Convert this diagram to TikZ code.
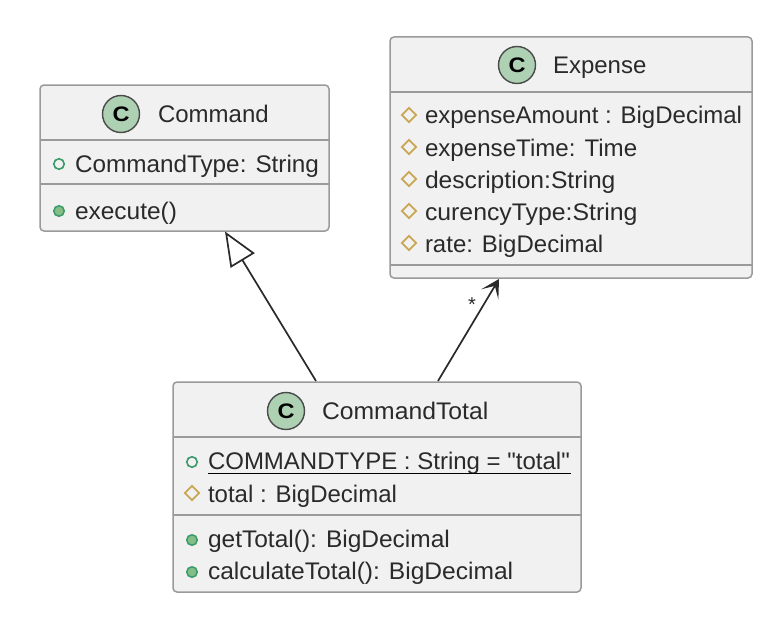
\documentclass[tikz,border=0pt]{standalone}
\usepackage{fontspec}
\setmainfont{Liberation Sans}
\newfontfamily\plainsans{Liberation Sans}
\usetikzlibrary{arrows.meta,shapes.geometric}
\definecolor{boxfill}{HTML}{F1F1F1}
\definecolor{boxline}{HTML}{9A9A9A}
\definecolor{ink}{HTML}{2A2A2A}
\definecolor{badge}{HTML}{ADD1B2}
\definecolor{publine}{HTML}{3B9A6B}
\definecolor{pubfill}{HTML}{84BE84}
\definecolor{protline}{HTML}{C9A654}
\newcommand{\xfit}[2]{\scalebox{#1}[1]{#2}}
\tikzset{
  classbox/.style={draw=boxline,fill=boxfill,line width=1.5pt,rounded corners=4pt,anchor=north west,inner sep=0pt,outer sep=0pt},
  divider/.style={draw=boxline,line width=1.4pt},
  label/.style={anchor=base west,inner sep=0pt,outer sep=0pt,text=ink,font=\fontsize{24}{28}\selectfont},
  badgecirc/.style={circle,draw=ink!85,fill=badge,line width=1.4pt,minimum size=37pt,inner sep=0pt,font=\fontsize{21}{25}\selectfont\bfseries,text=black},
  pubfield/.style={circle,draw=publine,fill=boxfill,line width=1.6pt,minimum size=10.5pt,inner sep=0pt},
  pubmethod/.style={circle,draw=publine,fill=pubfill,line width=1.5pt,minimum size=10.5pt,inner sep=0pt},
  protfield/.style={diamond,draw=protline,fill=boxfill,line width=1.7pt,minimum width=15pt,minimum height=15pt,inner sep=0pt},
  conn/.style={draw=ink,line width=1.7pt},
}
\begin{document}
\begin{tikzpicture}[x=1pt,y=-1pt]
\useasboundingbox[fill=white] (0,0) rectangle (771,626);

% Command
\node[classbox,minimum width=289pt,minimum height=146pt] (cmd) at (40,85) {};
\draw[divider] (cmd.west |- 0,140) -- (cmd.east |- 0,140);
\draw[divider] (cmd.west |- 0,184) -- (cmd.east |- 0,184);
\node[badgecirc] (cmdC) at (121,114) {\xfit{1.12}{C}};
\node[label] (cmdT) at (158,122) {Command};
\node[pubfield] (cmdI1) at (59,164) {};
\node[label] (cmdL1) at (75,172) {\xfit{1.0125}{CommandType: String}};
\node[pubmethod] (cmdI2) at (59,211) {};
\node[label] (cmdL2) at (75,219) {\xfit{1.02}{execute()}};

% Expense
\node[classbox,minimum width=362pt,minimum height=241pt] (exp) at (390,37) {};
\draw[divider] (exp.west |- 0,92) -- (exp.east |- 0,92);
\draw[divider] (exp.west |- 0,265) -- (exp.east |- 0,265);
\node[badgecirc] (expC) at (517,65) {\xfit{1.12}{C}};
\node[label] (expT) at (553,74) {Expense};
\node[protfield] (expI1) at (409,115) {};
\node[label] (expL1) at (425,123) {expenseAmount : BigDecimal};
\node[protfield] (expI2) at (409,147) {};
\node[label] (expL2) at (425,156) {\xfit{1.005}{expenseTime: Time}};
\node[protfield] (expI3) at (409,179) {};
\node[label] (expL3) at (425,188) {\xfit{1.027}{description:String}};
\node[protfield] (expI4) at (409,211) {};
\node[label] (expL4) at (425,220) {\xfit{1.034}{curencyType:String}};
\node[protfield] (expI5) at (409,243) {};
\node[label] (expL5) at (425,252) {rate: BigDecimal};

% CommandTotal
\node[classbox,minimum width=408pt,minimum height=210pt] (tot) at (173,382) {};
\draw[divider] (tot.west |- 0,437) -- (tot.east |- 0,437);
\draw[divider] (tot.west |- 0,515) -- (tot.east |- 0,515);
\node[badgecirc] (totC) at (286,411) {\xfit{1.12}{C}};
\node[label] (totT) at (322,419) {\xfit{1.03}{CommandTotal}};
\node[pubfield] (totI1) at (192,462) {};
\node[label] (totL1) at (208,469) {\plainsans COMMANDTYPE : String = "total"};
\draw[draw=black,line width=1.4pt] (208,473.5) -- (571,473.5);
\node[protfield] (totI2) at (192,493) {};
\node[label] (totL2) at (208,502) {total : BigDecimal};
\node[pubmethod] (totI3) at (192,540) {};
\node[label] (totL3) at (208,547) {\xfit{1.021}{getTotal(): BigDecimal}};
\node[pubmethod] (totI4) at (192,572) {};
\node[label] (totL4) at (208,579) {\xfit{1.023}{calculateTotal(): BigDecimal}};

% Connectors
\coordinate (totA) at (316,381);
\coordinate (cmdA) at (225,231.5);
\coordinate (totB) at (438,381);
\coordinate (expB) at (499,279);
\draw[conn,-{Triangle[open,fill=white,length=34pt,width=28pt]}] (totA) -- (cmdA);
\draw[conn,-{Stealth[length=18pt,width=20pt,inset=10pt]}] (totB) -- (expB);
\node[anchor=center,inner sep=0pt,text=ink,font=\fontsize{20}{23}\selectfont] (mult) at (472,305) {*};
\end{tikzpicture}
\end{document}
